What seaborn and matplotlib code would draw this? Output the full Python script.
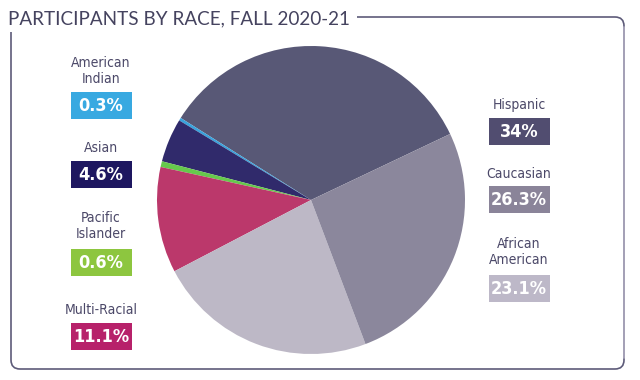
import matplotlib.pyplot as plt
import seaborn as sns
from matplotlib.patches import FancyBboxPatch, Rectangle

sns.set_theme(style="white")
plt.rcParams['font.family'] = ['DejaVu Sans']
plt.rcParams['font.stretch'] = 'condensed'

# Data
races = ["Hispanic", "American\nIndian", "Asian", "Pacific\nIslander",
         "Multi-Racial", "African\nAmerican", "Caucasian"]
shares = [34.0, 0.3, 4.6, 0.6, 11.1, 23.1, 26.3]
pct_labels = ["34%", "0.3%", "4.6%", "0.6%", "11.1%", "23.1%", "26.3%"]
pie_colors = ["#585876", "#3aa2dc", "#302a6b", "#66c94c",
              "#bb386b", "#bdb8c6", "#8b879c"]
box_colors = ["#514d70", "#38a9e1", "#1e1760", "#8dc63f",
              "#b7216a", "#bdb8c8", "#8a8499"]

# label layout (pixel coords: x centre, y of name, y of box top)
label_pos = {
    "Hispanic": (519, 105, 118),
    "American\nIndian": (101, 71, 92),
    "Asian": (101, 148, 161),
    "Pacific\nIslander": (101, 226, 249),
    "Multi-Racial": (101, 310, 323),
    "African\nAmerican": (519, 252, 275),
    "Caucasian": (519, 174, 186),
}

fig = plt.figure(figsize=(6.4, 3.8), dpi=100)

# background axes in pixel coordinates
bg = fig.add_axes([0, 0, 1, 1])
bg.set_xlim(0, 640)
bg.set_ylim(380, 0)
bg.axis("off")

frame = FancyBboxPatch((11, 17), 613, 352, boxstyle="round,pad=0,rounding_size=9",
                       fill=False, edgecolor="#5d5b79", linewidth=1.2)
bg.add_patch(frame)
bg.plot([624, 624], [27, 358], color="#aaa6bc", linewidth=1.3)
bg.add_patch(Rectangle((0, 0), 357, 32, facecolor="white", edgecolor="none", zorder=2))
bg.text(8, 19, "PARTICIPANTS BY RACE, FALL 2020-21", fontsize=13.6, color="#45435f",
        va="center", ha="left", zorder=3, family=["Lato", "DejaVu Sans"],
        fontstretch="normal")

for name, pct, col in zip(races, pct_labels, box_colors):
    x, y_name, y_box = label_pos[name]
    bg.text(x, y_name, name, ha="center", va="center", fontsize=10,
            color="#4b4868", linespacing=1.1)
    bg.add_patch(Rectangle((x - 30.5, y_box), 61, 27, facecolor=col, edgecolor="none"))
    bg.text(x, y_box + 14, pct, ha="center", va="center", fontsize=13,
            fontweight="bold", color="white")

# pie axes
cx, cy, r = 311, 200, 154
pie_ax = fig.add_axes([(cx - r) / 640, (380 - cy - r) / 380, 2 * r / 640, 2 * r / 380])
pie_ax.pie(shares, colors=pie_colors, startangle=25.4, counterclock=True,
           wedgeprops=dict(linewidth=0))
pie_ax.set_xlim(-1, 1)
pie_ax.set_ylim(-1, 1)
pie_ax.set_aspect("equal")

fig.savefig("out.png", dpi=100)
